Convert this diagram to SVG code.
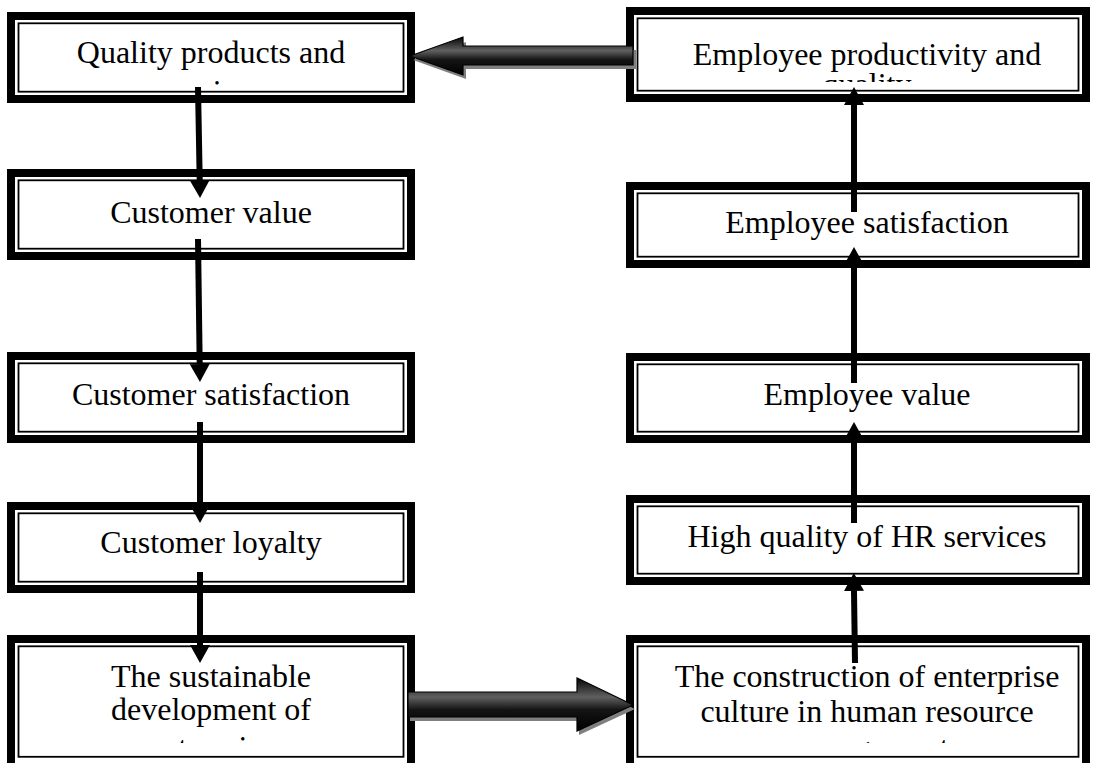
<svg xmlns="http://www.w3.org/2000/svg" width="1096" height="763" viewBox="0 0 1096 763">
<style>
  .outer { fill: #fff; stroke: #000; stroke-width: 8; }
  .inner { fill: none; stroke: #000; stroke-width: 1.8; }
  .lbl { font-family: "Liberation Serif", "Times New Roman", serif; font-size: 32px; fill: #000; text-anchor: middle; }
  .conn { stroke: #000; stroke-width: 6; fill: none; }
  .block { fill: url(#blockGrad); stroke: #000; stroke-width: 1.2; }
  .shadow { fill: #7f7f7f; }
</style>
<defs>
  <marker id="ah" viewBox="0 0 18 20" refX="0" refY="10" markerWidth="18" markerHeight="20" markerUnits="userSpaceOnUse" orient="auto">
    <path d="M0,0 L18,10 L0,20 Z" fill="#000"/>
  </marker>
  <linearGradient id="blockGrad" x1="0" y1="0" x2="0" y2="1">
    <stop offset="0" stop-color="#050505"/>
    <stop offset="0.36" stop-color="#606060"/>
    <stop offset="0.6" stop-color="#141414"/>
    <stop offset="1" stop-color="#000"/>
  </linearGradient>
  <clipPath id="clipL1"><rect x="19" y="20" width="384" height="66.5"/></clipPath>
  <clipPath id="clipR1"><rect x="638" y="16" width="440" height="66"/></clipPath>
  <clipPath id="clipL5"><rect x="19" y="645" width="384" height="98"/></clipPath>
  <clipPath id="clipR5"><rect x="638" y="645" width="440" height="98"/></clipPath>
</defs>

<g id="node-quality-products">
  <rect class="outer" x="11" y="16" width="400" height="83"/>
  <rect class="inner" x="18.5" y="23.3" width="385" height="68.4"/>
  <g clip-path="url(#clipL1)">
    <text class="lbl" x="211" y="63">Quality products and</text>
    <text class="lbl" x="211" y="102">services</text>
  </g>
</g>
<g id="node-customer-value">
  <rect class="outer" x="11" y="173" width="400" height="83"/>
  <rect class="inner" x="18.5" y="180.3" width="385" height="68.4"/>
  <text class="lbl" x="211" y="223">Customer value</text>
</g>
<g id="node-customer-satisfaction">
  <rect class="outer" x="11" y="356" width="400" height="83"/>
  <rect class="inner" x="18.5" y="363.3" width="385" height="68.4"/>
  <text class="lbl" x="211" y="405">Customer satisfaction</text>
</g>
<g id="node-customer-loyalty">
  <rect class="outer" x="11" y="506" width="400" height="83"/>
  <rect class="inner" x="18.5" y="513.3" width="385" height="68.4"/>
  <text class="lbl" x="211" y="553">Customer loyalty</text>
</g>
<g id="node-sustainable-development">
  <rect class="outer" x="11" y="639" width="400" height="130"/>
  <rect class="inner" x="18.5" y="646.3" width="385" height="110.5"/>
  <g clip-path="url(#clipL5)">
    <text class="lbl" x="211" y="687">The sustainable</text>
    <text class="lbl" x="211" y="720">development of</text>
    <text class="lbl" x="211" y="758">enterprise</text>
  </g>
</g>

<g id="node-employee-productivity">
  <rect class="outer" x="630" y="11" width="456" height="87"/>
  <rect class="inner" x="637.5" y="18.3" width="441" height="72.4"/>
  <g clip-path="url(#clipR1)">
    <text class="lbl" x="867" y="65">Employee productivity and</text>
    <text class="lbl" x="867" y="95">quality</text>
  </g>
</g>
<g id="node-employee-satisfaction">
  <rect class="outer" x="630" y="186" width="456" height="78"/>
  <rect class="inner" x="637.5" y="193.3" width="441" height="63.4"/>
  <text class="lbl" x="867" y="233">Employee satisfaction</text>
</g>
<g id="node-employee-value">
  <rect class="outer" x="630" y="357" width="456" height="82"/>
  <rect class="inner" x="637.5" y="364.3" width="441" height="67.4"/>
  <text class="lbl" x="867" y="405">Employee value</text>
</g>
<g id="node-hr-services">
  <rect class="outer" x="630" y="499" width="456" height="82"/>
  <rect class="inner" x="637.5" y="506.3" width="441" height="67.4"/>
  <text class="lbl" x="867" y="547">High quality of HR services</text>
</g>
<g id="node-enterprise-culture">
  <rect class="outer" x="630" y="639" width="456" height="130"/>
  <rect class="inner" x="637.5" y="646.3" width="441" height="110.5"/>
  <g clip-path="url(#clipR5)">
    <text class="lbl" x="867" y="687">The construction of enterprise</text>
    <text class="lbl" x="867" y="722">culture in human resource</text>
    <text class="lbl" x="867" y="758">management</text>
  </g>
</g>

<g id="connectors">
  <line class="conn" x1="198" y1="87" x2="199.7" y2="180" marker-end="url(#ah)"/>
  <line class="conn" x1="198" y1="239" x2="199.7" y2="364" marker-end="url(#ah)"/>
  <line class="conn" x1="200" y1="422" x2="200" y2="505" marker-end="url(#ah)"/>
  <line class="conn" x1="200" y1="572" x2="200" y2="645" marker-end="url(#ah)"/>
  <line class="conn" x1="855" y1="663" x2="854" y2="591" marker-end="url(#ah)"/>
  <line class="conn" x1="854" y1="523" x2="854" y2="440" marker-end="url(#ah)"/>
  <line class="conn" x1="854" y1="383" x2="854" y2="265" marker-end="url(#ah)"/>
  <line class="conn" x1="854" y1="212" x2="854" y2="105" marker-end="url(#ah)"/>

  <path class="shadow" d="M413,60 L466,42 L466,50 L636,50 L636,69 L466,69 L466,79 Z"/>
  <path class="block" d="M410,56 L463,37 L463,46 L633,46 L633,65 L463,65 L463,75 Z"/>

  <path class="shadow" d="M410,696 L579,696 L579,682 L635,709 L579,735 L579,721 L410,721 Z"/>
  <path class="block" d="M408,692 L577,692 L577,678 L633,705 L577,731 L577,717 L408,717 Z"/>
</g>
</svg>
